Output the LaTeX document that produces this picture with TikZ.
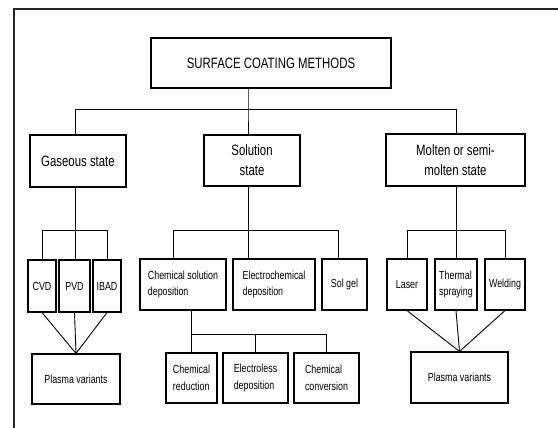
\documentclass[tikz,border=0pt]{standalone}
\usepackage{fontspec}
\setmainfont[FakeStretch=0.76]{Liberation Sans}
\begin{document}
\begin{tikzpicture}[x=1pt,y=-1pt,
  box/.style={draw=black, line width=1.1pt, inner sep=0pt, align=center},
  big/.style={font=\fontsize{15}{20}\selectfont},
  small/.style={font=\fontsize{11.7}{16.7}\selectfont, align=left},
  conn/.style={draw=black, line width=0.9pt}]
\useasboundingbox (0,0) rectangle (558,428);
\draw[line width=2.5pt, black!85] (14,428) -- (14,9) -- (558,9);
% level 0
\node[box,big,minimum width=240pt,minimum height=50pt] (top) at (271,63) {SURFACE COATING METHODS};
% level 1
\node[box,big,minimum width=96pt,minimum height=52pt] (gas) at (78,161) {Gaseous state};
\node[box,big,minimum width=96pt,minimum height=51pt] (sol) at (252,160.5) {Solution\\state};
\node[box,big,minimum width=139pt,minimum height=52pt] (mol) at (455.5,160) {Molten or semi-\\molten state};
% level 2
\node[box,small,minimum width=28pt,minimum height=52pt] (cvd) at (42,286) {CVD};
\node[box,small,minimum width=31pt,minimum height=52pt] (pvd) at (74.5,286) {PVD};
\node[box,small,minimum width=28pt,minimum height=52pt] (ibad) at (107,286) {IBAD};
\node[box,small,minimum width=86pt,minimum height=51pt] (csd) at (183,284.5) {Chemical solution\\deposition};
\node[box,small,minimum width=82pt,minimum height=51pt] (ec) at (274,284.5) {Electrochemical\\deposition};
\node[box,small,minimum width=45pt,minimum height=51pt] (sg) at (344.5,284.5) {Sol gel};
\node[box,small,minimum width=40pt,minimum height=51pt] (las) at (407,284.5) {Laser};
\node[box,small,minimum width=42pt,minimum height=51pt] (ths) at (456,284.5) {Thermal\\spraying};
\node[box,small,minimum width=40pt,minimum height=51pt] (wel) at (505,284.5) {Welding};
% level 3
\node[box,small,minimum width=88pt,minimum height=50pt] (pl) at (76,379) {Plasma variants};
\node[box,small,minimum width=51pt,minimum height=50pt] (cr) at (191.5,378) {Chemical\\reduction};
\node[box,small,minimum width=65pt,minimum height=50pt] (el) at (255.5,378) {Electroless\\deposition};
\node[box,small,minimum width=65pt,minimum height=50pt] (cc) at (326.5,378) {Chemical\\conversion};
\node[box,small,minimum width=97pt,minimum height=51pt] (pr) at (459.5,377.5) {Plasma variants};
% bus coordinates
\coordinate (tb) at (248,109);
\coordinate (g) at (75,230);
\coordinate (s) at (248,230);
\coordinate (sl) at (173,230);
\coordinate (sr) at (338,230);
\coordinate (m) at (456,230);
\coordinate (c) at (191,334);
% top connectors
\draw[conn] (tb |- top.south) -- (tb) -- (tb |- sol.north);
\draw[conn] (g |- gas.north) -- (g |- tb) -- (m |- tb) -- (m |- mol.north);
% gaseous
\draw[conn] (g |- gas.south) -- (g |- pvd.north);
\draw[conn] (cvd.north |- g) -- (ibad.north |- g);
\draw[conn] (cvd.north |- g) -- (cvd.north);
\draw[conn] (ibad.north |- g) -- (ibad.north);
\draw[conn] (cvd.south) -- (pl.north);
\draw[conn] (pvd.south) -- (pl.north);
\draw[conn] (ibad.south) -- (pl.north);
% solution
\draw[conn] (s |- sol.south) -- (s |- ec.north);
\draw[conn] (sl |- csd.north) -- (sl) -- (sr) -- (sr |- sg.north);
\draw[conn] (c |- csd.south) -- (c);
\draw[conn] (cr.north |- c) -- (cc.north |- c);
\draw[conn] (cr.north |- c) -- (cr.north);
\draw[conn] (el.north |- c) -- (el.north);
\draw[conn] (cc.north |- c) -- (cc.north);
% molten
\draw[conn] (m |- mol.south) -- (m |- ths.north);
\draw[conn] (las.north |- m) -- (wel.north |- m);
\draw[conn] (las.north |- m) -- (las.north);
\draw[conn] (wel.north |- m) -- (wel.north);
\draw[conn] (las.south) -- (pr.north);
\draw[conn] (ths.south) -- (pr.north);
\draw[conn] (wel.south) -- (pr.north);
\end{tikzpicture}
\end{document}
